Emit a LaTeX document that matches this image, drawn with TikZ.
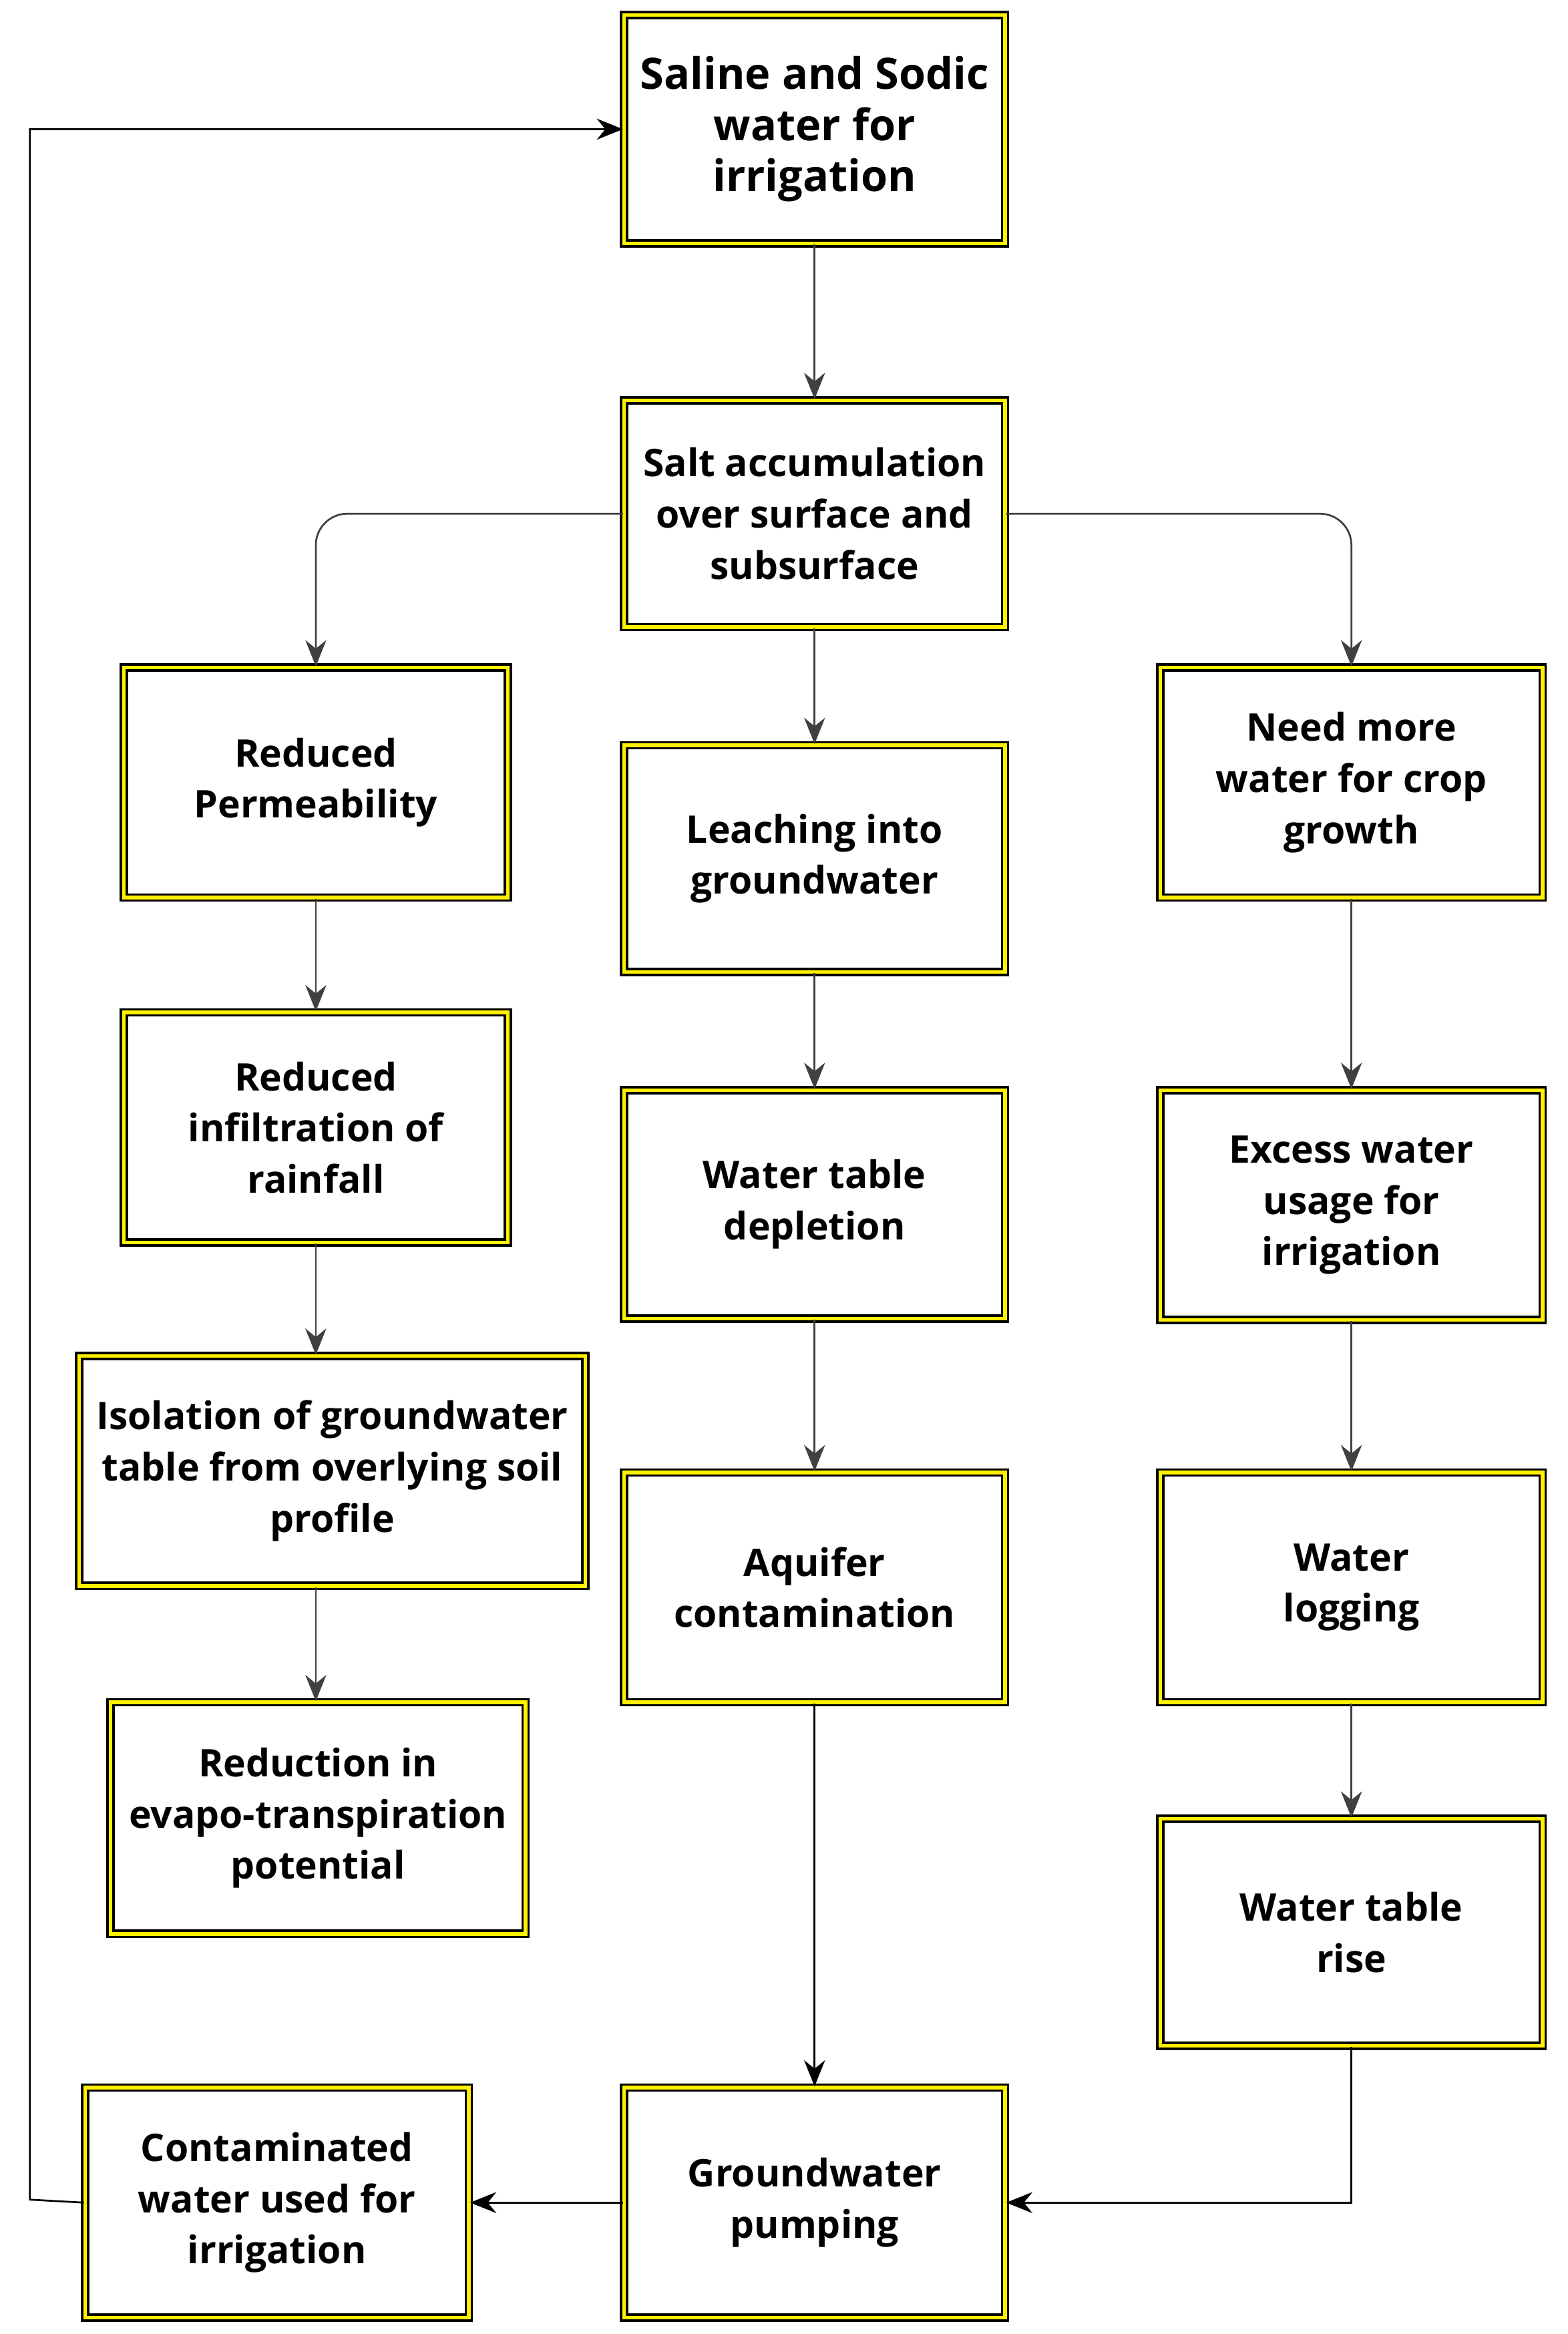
\documentclass[tikz,border=0pt]{standalone}
\usepackage{fontspec}
\setmainfont{Open Sans}
\usetikzlibrary{calc, positioning, arrows.meta}

\begin{document}
\begin{tikzpicture}[x = 0.02cm, y = -0.02cm,
		box/.style = {draw = black, double = yellow, double distance = 1.4pt, line width = 0.9pt,
			align = center, font = \bfseries\fontsize{14.5}{19.5}\selectfont, inner sep = 2pt},
		link/.style = {draw = black!75, line width = 0.7pt, -{Stealth[length = 10pt, width = 8pt]}}]
			\useasboundingbox (0,0) rectangle (1050,1563);

			% boxes, placed by corner coordinates
			\def\bx#1#2#3#4#5#6{\node [box, minimum width = {(#4-#2)*0.02cm}, minimum height = {(#5-#3)*0.02cm}] (#1) at ({(#2+#4)/2},{(#3+#5)/2}) {#6};}
			\bx{saline}{418}{10}{673}{163}{\fontsize{16.5}{21.5}\selectfont Saline and Sodic\\\fontsize{16.5}{21.5}\selectfont water for\\\fontsize{16.5}{21.5}\selectfont irrigation}
			\bx{salt}{418}{268}{673}{420}{Salt accumulation\\over surface and\\subsurface}
			\bx{perm}{83}{447}{340}{601}{Reduced\\Permeability}
			\bx{leach}{418}{499}{673}{651}{Leaching into\\groundwater}
			\bx{need}{777}{447}{1033}{601}{Need more\\water for crop\\growth}
			\bx{infil}{83}{678}{340}{832}{Reduced\\infiltration of\\rainfall}
			\bx{deplete}{418}{730}{673}{883}{Water table\\depletion}
			\bx{excess}{777}{730}{1033}{884}{Excess water\\usage for\\irrigation}
			\bx{isol}{53}{908}{392}{1062}{Isolation of groundwater\\table from overlying soil\\profile}
			\bx{aquifer}{418}{986}{673}{1140}{Aquifer\\contamination}
			\bx{logging}{777}{986}{1033}{1140}{Water\\logging}
			\bx{evapo}{74}{1140}{352}{1295}{Reduction in\\evapo-transpiration\\potential}
			\bx{rise}{777}{1218}{1033}{1370}{Water table\\rise}
			\bx{pump}{418}{1398}{673}{1552}{Groundwater\\pumping}
			\bx{contam}{57}{1398}{314}{1552}{Contaminated\\water used for\\irrigation}

			\coordinate (loop) at (20,1473);

			\begin{scope}[link]
				\draw (saline) -- (salt);
				\draw [rounded corners = 12] (salt.west) -| (perm.north);
				\draw [rounded corners = 12] (salt.east) -| (need.north);
				\draw (salt) -- (leach);
				\draw (perm) -- (infil);
				\draw (infil.south) -- (infil.south |- isol.north);
				\draw (infil.south |- isol.south) -- (infil.south |- evapo.north);
				\draw (leach) -- (deplete);
				\draw (deplete) -- (aquifer);
				\draw [black] (aquifer) -- (pump);
				\draw (need) -- (excess);
				\draw (excess) -- (logging);
				\draw (logging) -- (rise);
				\draw [black] (rise.south) |- (pump.east);
				\draw [black] (pump) -- (contam);
				\draw [black] (contam.west) -- (loop) |- (saline.west);
			\end{scope}
		\end{tikzpicture}
\end{document}
